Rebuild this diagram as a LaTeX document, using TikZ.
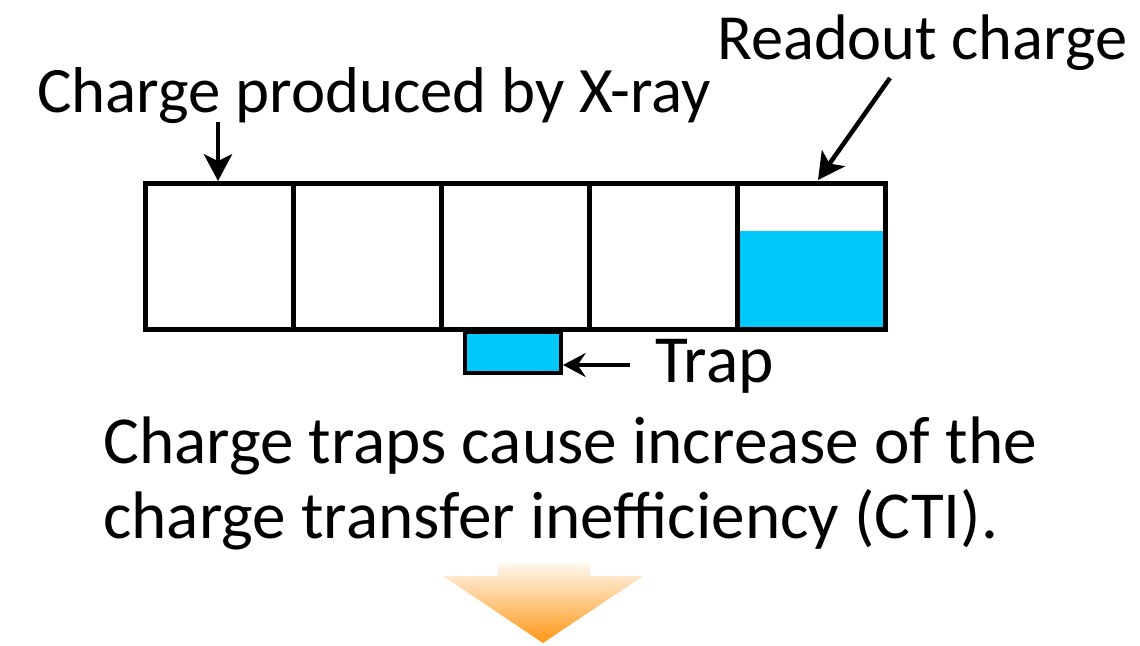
\documentclass[tikz,border=0pt]{standalone}
\usepackage{fontspec}
\setmainfont{Carlito}
\usetikzlibrary{arrows.meta}
\definecolor{cyanfill}{RGB}{0,200,250}
\definecolor{orangeA}{RGB}{255,150,20}
\definecolor{orangeB}{RGB}{255,246,236}
\begin{document}
\begin{tikzpicture}[x=0.75pt,y=-0.75pt,
  cell/.style={draw=black,line width=4pt,minimum width=148*0.75pt,minimum height=146*0.75pt,inner sep=0pt,anchor=north west},
  lbl/.style={inner sep=0pt,anchor=base west},
  bigarrow/.style={line width=3.4pt,-{Stealth[length=20pt,width=21pt,inset=5pt]}},
  traparrow/.style={line width=2.6pt,-{Stealth[length=17pt,width=18pt,inset=6pt]}}]
\useasboundingbox (0,0) rectangle (1140,646);
% readout charge fill
\fill[cyanfill] (737,231) rectangle (883,327);
% cells
\node[cell] (c1) at (143,181) {};
\node[cell] (c2) at (291,181) {};
\node[cell] (c3) at (439,181) {};
\node[cell] (c4) at (587,181) {};
\node[cell] (c5) at (735,181) {};
% trap
\node[draw=black,fill=cyanfill,line width=3pt,minimum width=96*0.75pt,minimum height=41*0.75pt,inner sep=0pt,anchor=north west] (trap) at (463,330) {};
% labels
\node[lbl,font=\fontsize{48.6}{56}\selectfont] (xray) at (37,112) {Charge produced by X-ray};
\node[lbl,font=\fontsize{48.3}{56}\selectfont] (readout) at (717,60) {Readout charge};
\node[lbl,font=\fontsize{50.5}{56}\selectfont] (traplbl) at (655,382) {Trap};
\node[lbl,font=\fontsize{50.4}{56}\selectfont] (l1) at (103,463) {Charge traps cause increase of the};
\node[lbl,font=\fontsize{50.4}{56}\selectfont] (l2) at (103,538) {charge transfer inefficiency (CTI).};
% connectors
\coordinate (xs) at (218,122);
\coordinate (rs) at (890,78);
\coordinate (ts) at (630,365);
\draw[bigarrow] (xs) -- (c1.north -| xs);
\draw[bigarrow] (rs) -- (818,180);
\draw[traparrow] (ts) -- (trap.east |- ts);
% orange arrow
\shade[top color=orangeB,bottom color=orangeA]
  (498,564) -- (590,564) -- (590,576) -- (643,576) -- (543,643) -- (443,576) -- (498,576) -- cycle;
\end{tikzpicture}
\end{document}
